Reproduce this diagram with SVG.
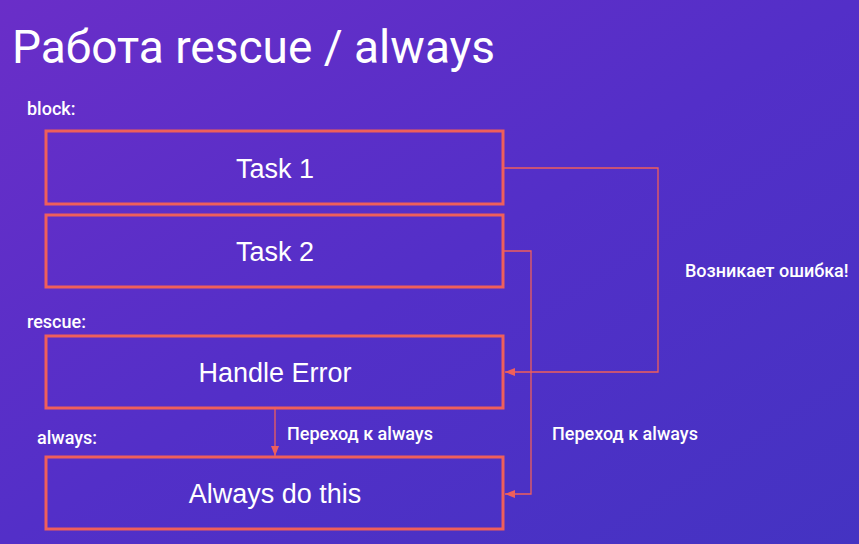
<svg xmlns="http://www.w3.org/2000/svg" width="859" height="544" viewBox="0 0 859 544">
  <defs>
    <linearGradient id="bg" x1="0" y1="0" x2="1" y2="1">
      <stop offset="0" stop-color="#6a2ec8"/>
      <stop offset="0.5" stop-color="#532fc8"/>
      <stop offset="1" stop-color="#4433c2"/>
    </linearGradient>
    <marker id="arrow" viewBox="0 0 10 10" refX="10" refY="5" markerWidth="10" markerHeight="10" markerUnits="userSpaceOnUse" orient="auto">
      <path d="M0,1 L10,5 L0,9 Z" fill="#ef5f5b"/>
    </marker>
    <style>
      .box { fill: none; stroke: #ef5f5b; stroke-width: 3; }
      .btext { font-family: "Liberation Sans", Arial, sans-serif; font-size: 27px; fill: #ffffff; text-anchor: middle; }
      .lbl { font-family: Roboto, "Noto Sans", sans-serif; font-size: 18px; font-weight: 500; fill: #ffffff; }
      .conn { fill: none; stroke: #ef5f5b; stroke-width: 1.3; }
    </style>
  </defs>

  <rect width="859" height="544" fill="url(#bg)"/>

  <text x="12" y="63" font-family="Roboto, 'Noto Sans', sans-serif" font-size="46" font-weight="400" fill="#ffffff">Работа rescue / always</text>

  <text class="lbl" x="27" y="115">block:</text>
  <text class="lbl" x="27" y="328">rescue:</text>
  <text class="lbl" x="37" y="444">always:</text>

  <g id="task1">
    <rect class="box" x="46" y="131" width="457" height="73"/>
    <text class="btext" x="275" y="178">Task 1</text>
  </g>
  <g id="task2">
    <rect class="box" x="46" y="215" width="457" height="72"/>
    <text class="btext" x="275" y="261">Task 2</text>
  </g>
  <g id="handle-error">
    <rect class="box" x="46" y="336" width="457" height="72"/>
    <text class="btext" x="275" y="382">Handle Error</text>
  </g>
  <g id="always-do">
    <rect class="box" x="46" y="457" width="457" height="72"/>
    <text class="btext" x="275" y="503">Always do this</text>
  </g>

  <g id="connectors">
    <path class="conn" d="M504,168 H658 V372 H505" marker-end="url(#arrow)"/>
    <path class="conn" d="M504,251 H531 V494 H505" marker-end="url(#arrow)"/>
    <path class="conn" d="M275,409 V456" marker-end="url(#arrow)"/>
  </g>

  <text class="lbl" x="685" y="277">Возникает ошибка!</text>
  <text class="lbl" x="287" y="440">Переход к always</text>
  <text class="lbl" x="552" y="440">Переход к always</text>
</svg>
